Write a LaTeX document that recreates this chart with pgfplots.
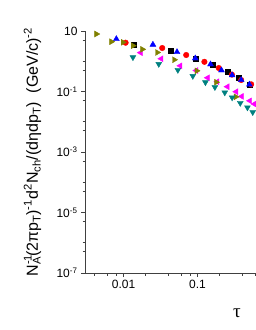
\documentclass[border=0pt]{standalone}
\usepackage{fontspec}
\setmainfont{Liberation Sans}
\newfontfamily\seriffont{Liberation Serif}
\usepackage{pgfplots}
\pgfplotsset{compat=1.18}
\definecolor{cOlive}{RGB}{128,128,0}
\definecolor{cTeal}{RGB}{0,128,128}
\definecolor{cMag}{RGB}{255,0,255}
\begin{document}
\begin{tikzpicture}
\useasboundingbox (-85pt,-57pt) rectangle (170pt,273pt);
\begin{axis}[
  at={(0,0)}, anchor=south west,
  scale only axis, width=170pt, height=242pt,
  xmode=log, ymode=log,
  xmin=0.003, xmax=0.6, ymin=1e-7, ymax=10,
  axis lines*=left,
  axis line style={line width=0.8pt, black!75},
  tick align=outside,
  tick style={black!75, line width=0.8pt},
  major tick length=4pt, minor tick length=2.5pt,
  xtick={0.01,0.1}, xticklabels={0.01,0.1},
  minor xtick={0.004,0.006,0.008,0.02,0.04,0.06,0.08,0.2,0.4,0.6},
  ytick={1e-7,1e-5,1e-3,0.1,10},
  yticklabels={10\textsuperscript{-7},10\textsuperscript{-5},10\textsuperscript{-3},10\textsuperscript{-1},10},
  minor ytick={5e-7,1e-6,5e-6,5e-5,1e-4,5e-4,5e-3,0.01,0.05,0.5,1,5},
  tick label style={font=\fontsize{12}{14}\selectfont},
  xlabel={\seriffont\fontsize{19}{21}\selectfont τ},
  xlabel style={at={(axis description cs:0,0)}, anchor=center, xshift=152pt, yshift=-40pt},
  ylabel={N\rlap{\textsuperscript{-1}}\textsubscript{A}(2πp\textsubscript{T})\textsuperscript{-1}d\textsuperscript{2}N\textsubscript{ch}/(dηdp\textsubscript{T})~~(GeV/c)\textsuperscript{-2}},
  ylabel style={at={(axis description cs:0,0.5)}, anchor=base, yshift=47pt, font=\fontsize{16}{18}\selectfont},
  every axis plot/.append style={only marks},
]
% black squares
\addplot[mark=square*, mark size=2.5pt, black] coordinates {
(0.01365,3.44) (0.0432,2.21) (0.0940,1.23) (0.161,0.774) (0.254,0.441) (0.365,0.290) (0.512,0.174)};
% red circles
\addplot[mark=*, mark size=2.8pt, red] coordinates {
(0.01064,4.10) (0.0333,2.74) (0.0703,1.61) (0.124,0.959) (0.194,0.598) (0.292,0.362) (0.390,0.240) (0.532,0.173)};
% blue up triangles
\addplot[mark=triangle*, mark size=3.4pt, blue] coordinates {
(0.00797,5.44) (0.0249,3.55) (0.0528,2.02) (0.0934,1.25) (0.150,0.793) (0.211,0.502) (0.294,0.346) (0.390,0.240) (0.504,0.170)};
% magenta left triangles
\addplot[mark=triangle*, mark size=3.4pt, cMag, mark options={rotate=90}] coordinates {
(0.0170,1.92) (0.0323,1.21) (0.0584,0.708) (0.0960,0.494) (0.137,0.284) (0.185,0.211) (0.254,0.144) (0.333,0.0985) (0.396,0.0689) (0.511,0.0493) (0.589,0.0386)};
% olive right triangles
\addplot[mark=triangle*, mark size=3.4pt, cOlive, mark options={rotate=-90}] coordinates {
(0.00428,7.96) (0.00682,4.43) (0.00978,4.23) (0.01336,3.27) (0.0179,2.48) (0.0285,1.95) (0.0484,1.12) (0.0975,0.483) (0.179,0.203) (0.330,0.0668)};
% teal down triangles
\addplot[mark=triangle*, mark size=3.4pt, cTeal, mark options={rotate=180}] coordinates {
(0.01336,1.35) (0.0299,0.811) (0.0542,0.514) (0.0864,0.325) (0.128,0.201) (0.172,0.139) (0.234,0.0927) (0.294,0.0634) (0.379,0.0417) (0.474,0.0296) (0.559,0.0207)};
\end{axis}
\end{tikzpicture}
\end{document}
